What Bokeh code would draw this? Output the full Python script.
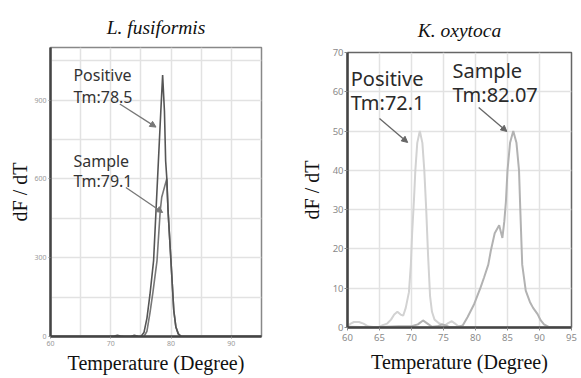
from bokeh.plotting import figure
from bokeh.layouts import row, column
from bokeh.models import FixedTicker, Label, Arrow, NormalHead
from bokeh.embed import file_html
from bokeh.resources import INLINE

# ---------------- data: L. fusiformis ----------------
lf_pos_t = [60, 70, 70.6, 71.1, 71.6, 72.2, 73.3, 73.9, 74.5, 75.0, 75.5, 76.0, 76.5, 77.1, 77.5, 77.9,
            78.3, 78.6, 78.9, 79.1, 79.3, 79.5, 79.9, 80.2, 80.45, 80.8, 81.2, 81.7, 95]
lf_pos_v = [0, 0, 2, 5, 2, 0, 0, 5, 1, 0, 15, 70, 160, 289, 478, 668,
            858, 995, 858, 668, 600, 478, 320, 200, 99, 36, 10, 0, 0]
lf_smp_t = [60, 75.5, 76.0, 76.5, 77.0, 77.67, 78.2, 78.45, 79.28, 79.5, 79.9, 80.2, 80.45, 80.8, 81.2,
            81.7, 95]
lf_smp_v = [0, 0, 20, 90, 170, 289, 478, 530, 600, 478, 320, 200, 99, 36, 10, 0, 0]

lf_xticks = [60, 70, 80, 90]
lf_yticks = [0, 300, 600, 900]
lf_xgrid = [60, 65, 70, 75, 80, 85, 90, 95]
lf_ygrid = [0, 150, 300, 450, 600, 750, 900, 1050]

# ---------------- data: K. oxytoca ----------------
ko_pos_t = [60.0, 60.5, 61.0, 61.8, 62.5, 63.2, 64.0, 65.0, 65.5, 66.2, 66.8, 67.3, 67.8, 68.3, 68.7,
            69.1, 69.6, 69.9, 70.1, 70.4, 70.6, 70.9, 71.3, 71.7, 72.0, 72.3, 72.6, 72.9, 73.2, 73.6,
            74.2, 74.8, 75.3, 75.8, 76.3, 76.8, 77.3, 78.0, 80.0, 95.0]
ko_pos_v = [0.3, 1.0, 1.4, 1.4, 1.0, 0.3, 0.1, 0.2, 0.6, 1.0, 2.0, 3.3, 4.0, 3.3, 3.0,
            5.0, 9.0, 16, 24, 33, 40, 47, 50, 47, 40, 30, 18, 8, 4, 2,
            1.2, 0.7, 0.6, 1.2, 1.6, 1.0, 0.3, 0.1, 0, 0]
ko_smp_t = [60.0, 62.0, 65.0, 68.0, 70.0, 71.0, 71.8, 72.5, 73.2, 74.0, 74.8, 75.3, 76.0, 77.0, 78.0,
            78.75, 79.8, 80.8, 81.35, 82.0, 82.4, 83.0, 83.7, 84.2, 84.5, 84.75, 85.0, 85.4, 85.9,
            86.4, 86.8, 87.0, 87.3, 87.85, 88.5, 89.0, 89.7, 90.2, 90.7, 91.5, 95.0]
ko_smp_v = [0.2, 0.1, 0.1, 0.3, 0.3, 0.8, 1.8, 1.0, 0.2, 0.3, 0.8, 0.5, 0.1, 0.1, 0.5,
            2.6, 6.0, 10.2, 12.8, 16, 19.6, 24, 26, 22.8, 27, 32, 40, 47, 50,
            47, 40, 30, 16, 9.4, 6.5, 5.0, 3.4, 1.8, 0.8, 0.1, 0]

ko_xticks = [60, 65, 70, 75, 80, 85, 90, 95]
ko_yticks = [0, 10, 20, 30, 40, 50, 60, 70]

titles = ["L. fusiformis", "K. oxytoca"]
xlabel = "Temperature (Degree)"
ylabel = "dF / dT"

# annotation texts and positions (data units)
lf_texts = ["Positive", "Tm:78.5", "Sample", "Tm:79.1"]
lf_text_x = [63.8, 63.8, 63.8, 63.8]
lf_text_y = [995, 912, 668, 590]
lf_arrows = [(71.5, 885, 77.5, 797), (72.5, 567, 78.6, 472)]

ko_texts = ["Positive", "Tm:72.1", "Sample", "Tm:82.07"]
ko_text_x = [60.5, 60.5, 76.4, 76.4]
ko_text_y = [63.4, 57.2, 65.3, 59.2]
ko_arrows = [(65.0, 53.2, 69.4, 47.1), (80.5, 56.0, 84.9, 49.9)]

SERIF = "Liberation Serif"
SANS = "Noto Sans"


def style(p, xticks, yticks, xgrid, ygrid, tick_size, tick_color, xls, yls, outline):
    p.xaxis.ticker = FixedTicker(ticks=xticks)
    p.yaxis.ticker = FixedTicker(ticks=yticks)
    p.xgrid.ticker = FixedTicker(ticks=xgrid)
    p.ygrid.ticker = FixedTicker(ticks=ygrid)
    for g in (p.xgrid[0], p.ygrid[0]):
        g.grid_line_color = "#e2e2e2"
        g.grid_line_width = 1.5
    for ax in (p.xaxis[0], p.yaxis[0]):
        ax.axis_line_color = "#444444"
        ax.axis_line_width = 2.5
        ax.major_tick_out = 2
        ax.major_tick_in = 0
        ax.major_tick_line_color = "#888888"
        ax.minor_tick_line_color = None
        ax.major_label_text_font = SANS
        ax.major_label_text_font_size = tick_size
        ax.major_label_text_color = tick_color
        ax.major_label_standoff = 2
        ax.axis_label_text_font = SERIF
        ax.axis_label_text_font_size = "20px"
        ax.axis_label_text_font_style = "normal"
        ax.axis_label_text_color = "#111111"
    p.xaxis.axis_label = xlabel
    p.yaxis.axis_label = ylabel
    p.xaxis.axis_label_standoff = xls
    p.yaxis.axis_label_standoff = yls
    p.outline_line_color = outline
    p.outline_line_width = 1.5
    p.title.align = "center"
    p.title.text_font = SERIF
    p.title.text_font_style = "italic"
    p.title.text_font_size = "19.5px"
    p.title.text_color = "#111111"
    p.background_fill_color = "white"
    p.border_fill_color = "white"


# ---------- left figure ----------
p1 = figure(width=290, height=376, x_range=(60, 95), y_range=(0, 1100),
            output_backend="svg", toolbar_location=None, title=titles[0],
            min_border_left=50, min_border_right=29, min_border_top=47, min_border_bottom=40)
style(p1, lf_xticks, lf_yticks, lf_xgrid, lf_ygrid, "7px", "#999999", 3, 0, "#888888")
p1.title.standoff = 20
p1.line(lf_smp_t, lf_smp_v, line_color="#777777", line_width=1.6)
p1.line(lf_pos_t, lf_pos_v, line_color="#555555", line_width=1.6)
for t, x, y in zip(lf_texts, lf_text_x, lf_text_y):
    p1.add_layout(Label(x=x, y=y, text=t, text_font=SANS, text_font_size="16px",
                        text_color="#333333", text_baseline="middle", text_align="left"))
for (x0, y0, x1, y1) in lf_arrows:
    p1.add_layout(Arrow(x_start=x0, y_start=y0, x_end=x1, y_end=y1, line_color="#777777",
                        line_width=1.3,
                        end=NormalHead(size=6, fill_color="#777777", line_color="#777777")))

# ---------- right figure ----------
p2 = figure(width=289, height=376, x_range=(60, 95), y_range=(0, 70),
            output_backend="svg", toolbar_location=None, title=titles[1],
            min_border_left=57, min_border_right=8, min_border_top=52, min_border_bottom=49)
style(p2, ko_xticks, ko_yticks, ko_xticks, ko_yticks, "9.5px", "#8a8a8a", 7, 7, "#666666")
p2.title.standoff = 24
p2.xaxis.major_tick_out = 3
p2.yaxis.major_tick_out = 3
p2.xaxis.major_label_standoff = 3
p2.yaxis.major_label_standoff = 1
p2.line(ko_pos_t, ko_pos_v, line_color="#d2d2d2", line_width=2)
p2.line(ko_smp_t, ko_smp_v, line_color="#b2b2b2", line_width=2)
for t, x, y in zip(ko_texts, ko_text_x, ko_text_y):
    p2.add_layout(Label(x=x, y=y, text=t, text_font=SANS, text_font_size="20px",
                        text_color="#2a2a2a", text_baseline="middle", text_align="left"))
for (x0, y0, x1, y1) in ko_arrows:
    p2.add_layout(Arrow(x_start=x0, y_start=y0, x_end=x1, y_end=y1, line_color="#666666",
                        line_width=1.3,
                        end=NormalHead(size=6, fill_color="#666666", line_color="#666666")))

layout = row(column(p1), column(p2))
open("out.html", "w").write(file_html(layout, INLINE))
